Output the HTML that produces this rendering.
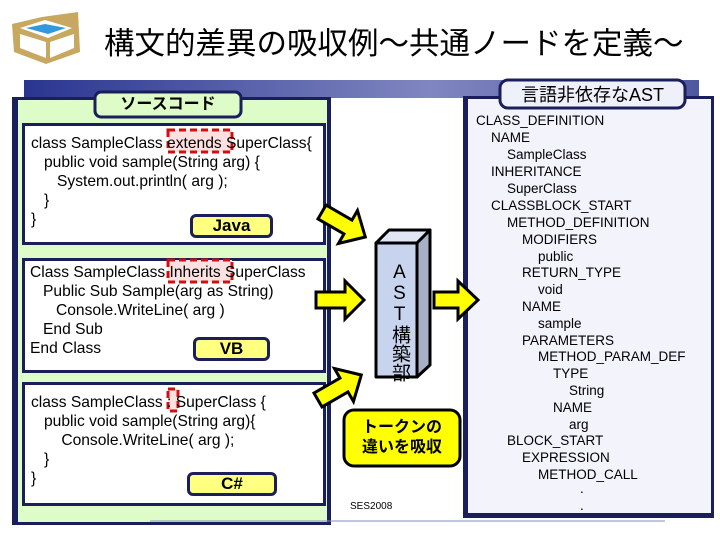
<!DOCTYPE html>
<html><head><meta charset="utf-8"><style>
body{margin:0;width:720px;height:540px;overflow:hidden;background:#fff;font-family:"Liberation Sans","Noto Sans CJK JP",sans-serif}
.a{position:absolute}
.code{position:absolute;font-size:15.6px;line-height:19px;color:#000;white-space:pre}
.lbl{position:absolute;background:#ffff80;border:3px solid #1a1f5c;border-radius:6px;font-weight:bold;text-align:center;font-size:17px;line-height:18px}
.tree{position:absolute;font-size:13.5px;line-height:17px;white-space:pre}
</style></head><body>
<svg class="a" style="left:0;top:0" width="720" height="540">
<defs><linearGradient id="g" x1="0" x2="1"><stop offset="0" stop-color="#2a3590"/><stop offset="0.6" stop-color="#7f86c0"/><stop offset="1" stop-color="#5058a0"/></linearGradient></defs>
<polygon points="42,17 78,12 80,52 46,64 14,52 12,24" fill="#c8a860"/>
<polygon points="20,28 45,20 72,28 48,38" fill="#fff"/>
<polygon points="26,28 45,24 66,28 48,34" fill="#3399dd"/>
<polygon points="20,34 46,42 46,58 20,48" fill="#fff"/>
<polygon points="50,42 74,34 74,48 50,58" fill="#fff"/>
<rect x="24" y="80" width="675" height="18" fill="url(#g)"/>
<rect x="12" y="97" width="319" height="428" fill="#1a1f5c"/>
<rect x="18" y="100" width="309" height="422" fill="#ddfcc8"/>
<rect x="22" y="123" width="304" height="122" fill="#1a1f5c"/><rect x="25" y="126" width="298" height="116" fill="#fff"/>
<rect x="22" y="258" width="304" height="115" fill="#1a1f5c"/><rect x="25" y="261" width="298" height="109" fill="#fff"/>
<rect x="22" y="382" width="304" height="124" fill="#1a1f5c"/><rect x="25" y="385" width="298" height="118" fill="#fff"/>
<rect x="168" y="130" width="64" height="22" fill="#fde0e0" stroke="#d01010" stroke-width="3" stroke-dasharray="7,4"/>
<rect x="168" y="260" width="64" height="22" fill="#fde0e0" stroke="#d01010" stroke-width="3" stroke-dasharray="7,4"/>
<rect x="168" y="389" width="10" height="22" fill="#fde0e0" stroke="#d01010" stroke-width="3" stroke-dasharray="7,4"/>
<rect x="463" y="96" width="251" height="422" fill="#1a1f5c"/>
<rect x="468" y="99" width="243" height="414" fill="#f2f3fb"/>
<g fill="#ffff00" stroke="#000" stroke-width="3" stroke-linejoin="miter">
<polygon points="316,292 345,292 345,281 364,300 345,319 345,308 316,308"/>
<polygon points="434,292 458,292 458,281 478,300 458,319 458,308 434,308"/>
<g transform="translate(322,212) rotate(30)"><polygon points="0,-8 30,-8 30,-19 50,0 30,19 30,8 0,8"/></g>
<g transform="translate(318,400) rotate(-30)"><polygon points="0,-8 30,-8 30,-19 50,0 30,19 30,8 0,8"/></g>
</g>
<g stroke="#000" stroke-width="3" stroke-linejoin="round">
<polygon points="376,243 389,230 430,230 417,243" fill="#e0e6f5"/>
<polygon points="417,243 430,230 430,365 417,377" fill="#a8b0c8"/>
<rect x="376" y="243" width="41" height="134" fill="#c8d4ee"/>
</g>
<rect x="344" y="410" width="116" height="56" rx="10" fill="#ffff00" stroke="#000" stroke-width="3"/>
<rect x="500" y="80" width="185" height="28" rx="8" fill="#eef0fa" stroke="#1a1f5c" stroke-width="3"/>
<rect x="95" y="92" width="146" height="25" rx="6" fill="#ddfcc8" stroke="#1a1f5c" stroke-width="3"/>
<line x1="150" y1="521" x2="665" y2="521" stroke="#8090c0" stroke-width="1"/>
</svg>
<div class="a" style="left:104px;top:25px;font-size:30.5px;line-height:38px;color:#000">構文的差異の吸収例～共通ノードを定義～</div>
<div class="a" style="left:95px;top:94px;width:146px;text-align:center;font-size:16px;font-weight:bold;line-height:22px">ソースコード</div>
<div class="a" style="left:500px;top:82px;width:185px;text-align:center;font-size:18px;line-height:26px">言語非依存なAST</div>
<div class="code" style="left:31px;top:134px">class SampleClass extends SuperClass{
   public void sample(String arg) {
      System.out.println( arg );
   }
}</div>
<div class="code" style="left:30px;top:263px">Class SampleClass Inherits SuperClass
   Public Sub Sample(arg as String)
      Console.WriteLine( arg )
   End Sub
End Class</div>
<div class="code" style="left:31px;top:393px">class SampleClass : SuperClass {
   public void sample(String arg){
       Console.WriteLine( arg );
   }
}</div>
<div class="lbl" style="left:190px;top:214px;width:77px">Java</div>
<div class="lbl" style="left:193px;top:337px;width:71px">VB</div>
<div class="lbl" style="left:187px;top:472px;width:84px">C#</div>
<div class="a" style="left:385px;top:262px;width:24px;font-size:19px;line-height:20px;writing-mode:vertical-rl;text-orientation:upright">AST構築部</div>
<div class="a" style="left:344px;top:418px;width:116px;text-align:center;font-size:16px;font-weight:bold;line-height:20px">トークンの<br>違いを吸収</div>
<div class="a" style="left:350px;top:501px;font-size:10px">SES2008</div>
<div class="tree" style="left:476px;top:112px">CLASS_DEFINITION</div>
<div class="tree" style="left:491px;top:129px">NAME</div>
<div class="tree" style="left:507px;top:146px">SampleClass</div>
<div class="tree" style="left:491px;top:163px">INHERITANCE</div>
<div class="tree" style="left:507px;top:180px">SuperClass</div>
<div class="tree" style="left:491px;top:197px">CLASSBLOCK_START</div>
<div class="tree" style="left:507px;top:214px">METHOD_DEFINITION</div>
<div class="tree" style="left:522px;top:231px">MODIFIERS</div>
<div class="tree" style="left:538px;top:248px">public</div>
<div class="tree" style="left:522px;top:264px">RETURN_TYPE</div>
<div class="tree" style="left:538px;top:281px">void</div>
<div class="tree" style="left:522px;top:298px">NAME</div>
<div class="tree" style="left:538px;top:315px">sample</div>
<div class="tree" style="left:522px;top:332px">PARAMETERS</div>
<div class="tree" style="left:538px;top:348px">METHOD_PARAM_DEF</div>
<div class="tree" style="left:553px;top:365px">TYPE</div>
<div class="tree" style="left:569px;top:382px">String</div>
<div class="tree" style="left:553px;top:399px">NAME</div>
<div class="tree" style="left:569px;top:416px">arg</div>
<div class="tree" style="left:507px;top:432px">BLOCK_START</div>
<div class="tree" style="left:522px;top:449px">EXPRESSION</div>
<div class="tree" style="left:538px;top:466px">METHOD_CALL</div>
<div class="tree" style="left:580px;top:480px">.</div>
<div class="tree" style="left:580px;top:497px">.</div>
</body></html>
